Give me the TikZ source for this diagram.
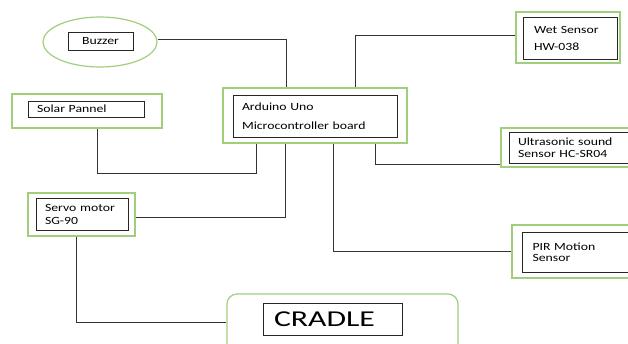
\documentclass[tikz,border=0pt]{standalone}
\usepackage{fontspec}
\setmainfont[FakeStretch=1.25]{Carlito}
\newfontfamily\bigfont[FakeStretch=1.4]{Carlito}
\usetikzlibrary{shapes}
\definecolor{boxgreen}{RGB}{160,206,125}

\begin{document}
\begin{tikzpicture}[x=1pt,y=-1pt]
\tikzstyle{frame}=[draw=boxgreen,line width=1.2pt,inner sep=0pt]
\tikzstyle{txtbox}=[draw=black!85,line width=0.8pt,inner xsep=9pt,inner ysep=0pt,align=left,font=\fontsize{11}{13}\selectfont]
\tikzstyle{wire}=[black!80,line width=0.9pt]
\clip (0,0) rectangle (628,343);

% green frames
\node[frame,ellipse,minimum width=114pt,minimum height=50pt] (bz) at (100,42) {};
\node[frame,minimum width=150pt,minimum height=34pt] (sol) at (87,111) {};
\node[frame,minimum width=184pt,minimum height=55pt] (ard) at (315,115.5) {};
\node[frame,minimum width=104pt,minimum height=51pt] (wt) at (568,37.5) {};
\node[frame,minimum width=139pt,minimum height=39pt] (us) at (570.5,147.5) {};
\node[frame,minimum width=128pt,minimum height=53pt] (pir) at (576,251.5) {};
\node[frame,minimum width=107pt,minimum height=43pt] (srv) at (81.5,214.5) {};
\node[frame,rounded corners=10pt,minimum width=231pt,minimum height=66pt] (cr) at (342.5,327) {};

% text boxes
\node[txtbox,align=center,minimum width=65pt,minimum height=18pt] (bzt) at (100.5,41) {Buzzer};
\node[txtbox,text width=98pt,minimum height=16pt] (solt) at (86,109) {Solar Pannel};
\node[txtbox,text width=146pt,minimum height=42pt] (ardt) at (315,116) {Arduino Uno\\[6pt]Microcontroller board};
\node[txtbox,text width=72pt,minimum height=42pt,inner xsep=11pt] (wtt) at (570,38) {Wet Sensor\\[4pt]HW-038};
\node[txtbox,text width=108pt,minimum height=31pt] (ust) at (572,147.5) {Ultrasonic sound\\[-1pt]Sensor HC-SR04};
\node[txtbox,text width=93pt,minimum height=40pt,inner xsep=10pt] (pirt) at (579,252) {PIR Motion\\[-2pt]Sensor};
\node[txtbox,text width=74pt,minimum height=32pt] (srvt) at (82,214) {Servo motor\\SG-90};
\node[txtbox,text width=117pt,minimum height=32pt,inner xsep=11pt,font=\bigfont\fontsize{22.7}{26}\selectfont] (crt) at (332.5,319) {CRADLE};

% connectors
\draw[wire] ([yshift=3pt]bz.east) -| ([xshift=-29pt]ard.north);
\draw[wire] ([yshift=2.5pt]wt.west) -| ([xshift=40pt]ard.north);
\draw[wire] ([xshift=10pt]sol.south) -- ++(0,45) -| ([xshift=-59pt]ard.south);
\draw[wire] ([yshift=-2.5pt]srv.east) -| ([xshift=-30pt]ard.south);
\draw[wire] ([xshift=60pt]ard.south) |- ([yshift=-17pt]us.west);
\draw[wire] ([xshift=18pt]ard.south) |- (pir.west);
\draw[wire] ([xshift=-5pt]srv.south) |- ([yshift=5pt]cr.west);
\end{tikzpicture}
\end{document}
